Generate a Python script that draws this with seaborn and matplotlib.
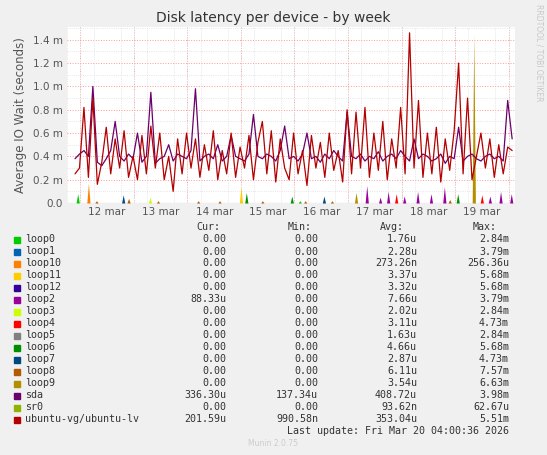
import numpy as np
import pandas as pd
import matplotlib
matplotlib.use("Agg")
import matplotlib.pyplot as plt
import seaborn as sns
from matplotlib.ticker import FuncFormatter, MultipleLocator

sns.set_style("white")
plt.rcParams['font.family'] = ['DejaVu Sans']

# time in days of March, 2-hour steps from 11 mar ~21:30
t_start = 11.9
step = 1 / 12.0

# values in ms
sda_ms = [0.38, 0.42, 0.45, 0.40, 1.00, 0.35, 0.32, 0.38, 0.45, 0.70, 0.40, 0.36,
          0.42, 0.38, 0.60, 0.35, 0.40, 0.95, 0.34, 0.38, 0.40, 0.50, 0.36, 0.42,
          0.40, 0.38, 0.45, 0.98, 0.36, 0.40, 0.42, 0.38, 0.50, 0.36, 0.40, 0.58,
          0.40, 0.38, 0.36, 0.42, 0.76, 0.40, 0.38, 0.42, 0.40, 0.36, 0.45, 0.66,
          0.38, 0.40, 0.36, 0.42, 0.60, 0.38, 0.40, 0.35, 0.42, 0.38, 0.45, 0.40,
          0.36, 0.78, 0.40, 0.38, 0.42, 0.36, 0.40, 0.38, 0.44, 0.36, 0.40, 0.42,
          0.38, 0.45, 0.40, 0.36, 0.55, 0.38, 0.42, 0.40, 0.36, 0.38, 0.42, 0.34,
          0.40, 0.38, 0.65, 0.36, 0.40, 0.42, 0.38, 0.36, 0.40, 0.42, 0.38, 0.40,
          0.36, 0.88, 0.55]
lv_ms = [0.25, 0.30, 0.82, 0.22, 0.90, 0.16, 0.35, 0.65, 0.25, 0.55, 0.30, 0.62,
         0.22, 0.40, 0.20, 0.58, 0.25, 0.66, 0.30, 0.60, 0.20, 0.40, 0.10, 0.55,
         0.25, 0.60, 0.30, 0.55, 0.22, 0.50, 0.28, 0.62, 0.20, 0.45, 0.25, 0.60,
         0.22, 0.48, 0.30, 0.58, 0.20, 0.52, 0.70, 0.25, 0.62, 0.18, 0.55, 0.30,
         0.20, 0.60, 0.25, 0.45, 0.15, 0.58, 0.30, 0.52, 0.22, 0.60, 0.28, 0.45,
         0.18, 0.80, 0.25, 0.78, 0.30, 0.82, 0.22, 0.60, 0.28, 0.70, 0.20, 0.55,
         0.30, 0.82, 0.25, 1.46, 0.30, 0.88, 0.22, 0.60, 0.25, 0.65, 0.18, 0.55,
         0.28, 0.62, 1.20, 0.25, 0.90, 0.20, 0.40, 0.60, 0.30, 0.55, 0.22, 0.50,
         0.25, 0.48, 0.45]

# small spikes from the loop devices: (day, height ms, device)
spike_day = [11.95, 12.15, 12.3, 12.8, 12.9, 13.3, 13.45, 14.2, 14.6, 15.0, 15.1, 15.4,
             15.95, 16.1, 16.2, 16.55, 16.7, 17.15, 17.35, 17.6, 17.75, 17.9, 18.05,
             18.3, 18.55, 18.8, 18.9, 19.05, 19.35, 19.5, 19.65, 19.85, 20.05]
spike_h = [0.08, 0.17, 0.02, 0.07, 0.04, 0.05, 0.02, 0.02, 0.02, 0.14, 0.09, 0.02,
           0.06, 0.02, 0.02, 0.06, 0.02, 0.09, 0.15, 0.05, 0.10, 0.08, 0.06, 0.10,
           0.08, 0.14, 0.03, 0.08, 1.45, 0.07, 0.06, 0.10, 0.08]
spike_dev = ['loop0', 'loop10', 'loop8', 'loop7', 'loop8', 'loop3', 'loop8', 'loop8',
             'loop8', 'loop11', 'loop6', 'loop8', 'loop6', 'loop0', 'loop8', 'loop7',
             'loop8', 'loop9', 'loop2', 'loop2', 'loop2', 'loop4', 'loop2', 'loop2',
             'loop2', 'loop2', 'loop8', 'loop6', 'loop9', 'loop4', 'loop2', 'loop2', 'loop2']

devices = ['loop0', 'loop1', 'loop10', 'loop11', 'loop12', 'loop2', 'loop3', 'loop4',
           'loop5', 'loop6', 'loop7', 'loop8', 'loop9', 'sda', 'sr0', 'ubuntu-vg/ubuntu-lv']
colors = ['#00cc00', '#0066b3', '#ff8000', '#ffcc00', '#330099', '#990099', '#ccff00',
          '#ff0000', '#808080', '#008f00', '#00487d', '#b35a00', '#b38f00', '#6b006b',
          '#8fb300', '#b30000']
cur = ['0.00'] * 5 + ['88.33u'] + ['0.00'] * 7 + ['336.30u', '0.00', '201.59u']
mins = ['0.00'] * 13 + ['137.34u', '0.00', '990.58n']
avgs = ['1.76u', '2.28u', '273.26n', '3.37u', '3.32u', '7.66u', '2.02u', '3.11u',
        '1.63u', '4.66u', '2.87u', '6.11u', '3.54u', '408.72u', '93.62n', '353.04u']
maxs = ['2.84m', '3.79m', '256.36u', '5.68m', '5.68m', '3.79m', '2.84m', '4.73m',
        '2.84m', '5.68m', '4.73m', '7.57m', '6.63m', '3.98m', '62.67u', '5.51m']
day_labels = ['12 mar', '13 mar', '14 mar', '15 mar', '16 mar', '17 mar', '18 mar', '19 mar']

pal = dict(zip(devices, colors))
t = t_start + step * np.arange(len(sda_ms))
df = pd.concat([
    pd.DataFrame({'day': t, 'val': np.array(sda_ms) * 1e-3, 'dev': 'sda'}),
    pd.DataFrame({'day': t, 'val': np.array(lv_ms) * 1e-3, 'dev': 'ubuntu-vg/ubuntu-lv'}),
])

fig = plt.figure(figsize=(5.47, 4.55), dpi=100, facecolor='#f0f0f0')
ax = fig.add_axes([67 / 547, 1 - 203 / 455, 448 / 547, 176 / 455])
ax.set_facecolor('white')

sns.lineplot(data=df, x='day', y='val', hue='dev', palette=pal, lw=0.9,
             legend=False, ax=ax)
for d, h, dev in zip(spike_day, spike_h, spike_dev):
    ax.fill_between([d - 0.03, d, d + 0.03], 0, [0, h * 1e-3, 0], color=pal[dev], lw=0)

ax.set_xlim(11.89, 20.12)
ax.set_ylim(0, 1.51e-3)
ax.yaxis.set_major_locator(MultipleLocator(0.2e-3))
ax.yaxis.set_minor_locator(MultipleLocator(0.1e-3))
ax.set_xticks(np.arange(12, 20) + 0.5, day_labels, minor=False)
ax.set_xticks(np.arange(11.75, 20.2, 0.25), minor=True)
ax.grid(which='minor', color='#dddddd', ls=':', lw=0.6)
ax.grid(True, axis='y', which='major', color='#ff9999', ls=':', lw=0.7)
ax.grid(False, axis='x', which='major')
for d in range(12, 21):
    ax.axvline(d, color='#ff9999', ls=':', lw=0.7, zorder=0)
ax.set_axisbelow(True)
ax.yaxis.set_major_formatter(FuncFormatter(lambda v, p: '0.0' if v == 0 else f'{v * 1e3:.1f} m'))
ax.tick_params(labelsize=7.5, colors='#555555', length=0, pad=3)
for s in ax.spines.values():
    s.set_visible(False)
ax.axhline(0, color='#aaaaaa', lw=0.8)
ax.set_xlabel('')
ax.set_ylabel('Average IO Wait (seconds)', fontsize=8.5, color='#555555')

fig.text(0.5, 1 - 18 / 455, 'Disk latency per device - by week', ha='center',
         va='center', fontsize=10, color='#333333')
fig.text(0.985, 0.885, 'RRDTOOL / TOBI OETIKER', rotation=270, ha='center', va='center',
         fontsize=5.5, color='#c8c8c8')

mono = dict(family='DejaVu Sans Mono', fontsize=7.2, color='#333333', va='center')
for x, h in [(220, 'Cur:'), (312, 'Min:'), (404, 'Avg:'), (497, 'Max:')]:
    fig.text(x / 547, 1 - 227 / 455, h, ha='right', **mono)
for i, dev in enumerate(devices):
    y = 1 - (239.5 + 12 * i) / 455
    fig.patches.append(plt.Rectangle((14 / 547, y - 3 / 455), 6 / 547, 6 / 455,
                                     transform=fig.transFigure, color=pal[dev]))
    fig.text(25 / 547, y, dev, ha='left', **mono)
    fig.text(226 / 547, y, cur[i], ha='right', **mono)
    fig.text(318 / 547, y, mins[i], ha='right', **mono)
    fig.text(417 / 547, y, avgs[i], ha='right', **mono)
    fig.text(509 / 547, y, maxs[i], ha='right', **mono)
fig.text(509 / 547, 1 - 431 / 455, 'Last update: Fri Mar 20 04:00:36 2026', ha='right', **mono)
fig.text(0.5, 1 - 444 / 455, 'Munin 2.0.75', ha='center', va='center', fontsize=5.5,
         color='#cccccc')

fig.savefig('out.png', dpi=100, facecolor=fig.get_facecolor())
